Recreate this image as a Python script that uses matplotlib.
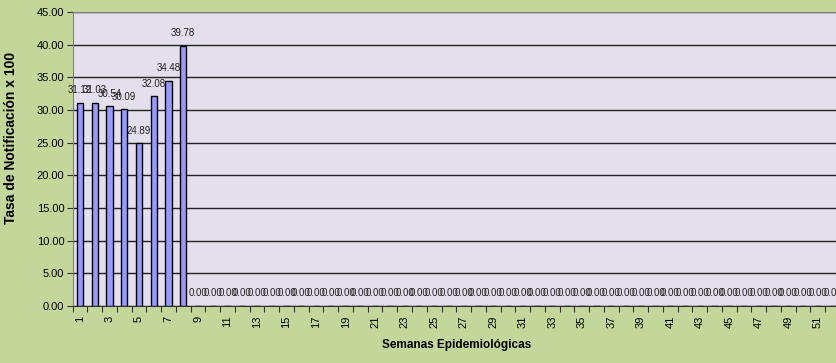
import matplotlib.pyplot as plt
from matplotlib.ticker import FixedLocator

weeks = list(range(1, 53))
rates = [31.12, 31.03, 30.54, 30.09, 24.89, 32.08, 34.48, 39.78] + [0.0] * 44
tick_weeks = list(range(1, 53, 2))

plt.rcParams['font.family'] = ['Liberation Sans Narrow', 'Liberation Sans', 'DejaVu Sans']

fig = plt.figure(figsize=(8.36, 3.63), dpi=100, facecolor='#C4D79B')
ax = fig.add_axes([0.0868, 0.157, 0.918, 0.81])
ax.set_facecolor('#E4DFEC')

bars = ax.bar(weeks, rates, width=0.42, color='#9999FF', edgecolor='black',
              linewidth=1.0, zorder=3)
for b, v in zip(bars, rates):
    ax.text(b.get_x() + b.get_width() / 2, v + 1.2, '%.2f' % v,
            ha='center', va='bottom', fontsize=7, color='#222222', zorder=4)

ax.set_xlim(0.5, 52.5)
ax.set_ylim(0, 45)
ax.set_yticks([i * 5 for i in range(10)])
ax.set_yticklabels(['%.2f' % (i * 5) for i in range(10)], fontsize=8)
ax.yaxis.grid(True, color='#222222', linewidth=1.0, zorder=1)

ax.set_xticks(tick_weeks)
ax.set_xticklabels([str(w) for w in tick_weeks], rotation=90, fontsize=8)
ax.tick_params(axis='x', which='major', length=0, pad=7)
ax.xaxis.set_minor_locator(FixedLocator([w + 0.5 for w in range(0, 53)]))
ax.tick_params(axis='x', which='minor', length=4, width=0.8, color='#333333')
ax.tick_params(axis='y', length=4, width=0.8, color='#333333', pad=2)

for side in ['top', 'right']:
    ax.spines[side].set_color('#808080')
ax.spines['left'].set_color('#808080')
ax.spines['bottom'].set_color('#333333')

ax.set_xlabel('Semanas Epidemiológicas', fontsize=8.5, fontweight='bold',
              family='Liberation Sans', labelpad=8)
ax.set_ylabel('Tasa de Notificación x 100', fontsize=10, fontweight='bold',
              family='Liberation Sans')
ax.yaxis.set_label_coords(-0.0715, 0.571)

fig.savefig('out.png', dpi=100, facecolor=fig.get_facecolor())
